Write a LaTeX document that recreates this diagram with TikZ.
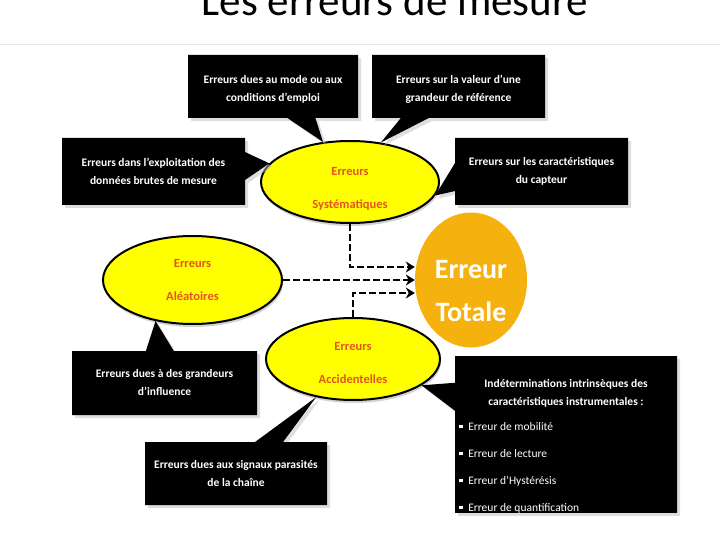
\documentclass[tikz,border=0pt]{standalone}
\usepackage{fontspec}
\setmainfont{Carlito}
\usepackage{xcolor}
\usepackage{tikz}
\usetikzlibrary{arrows.meta,shapes.geometric,shapes.callouts,shadows}
\definecolor{ErrYellow}{HTML}{FFFF00}
\definecolor{ErrRed}{HTML}{E5541B}
\definecolor{TotalOrange}{HTML}{F5B10E}
\definecolor{ShadowGray}{HTML}{BDBDBD}
\definecolor{RuleGray}{HTML}{E6E6E6}
\newcommand{\sqbullet}{\rule[2pt]{3.5pt}{3.5pt}\enspace}

\begin{document}
\begin{tikzpicture}[x=1pt, y=-1pt, >={Stealth[length=9pt,width=11pt]},
    callbox/.style={rectangle callout, fill=black, text=white, inner sep=0pt,
      align=center, callout pointer width=28pt,
      font=\bfseries\fontsize{11.5}{18}\selectfont,
      drop shadow={shadow xshift=3pt, shadow yshift=-3pt, fill=ShadowGray}},
    errbox/.style={ellipse, draw=black, line width=2pt, fill=ErrYellow,
      text=ErrRed, inner sep=0pt, align=center,
      font=\bfseries\fontsize{12.5}{33}\selectfont,
      drop shadow={shadow xshift=1pt, shadow yshift=-3pt, fill=gray!70}},
    flow/.style={->, line width=2pt, dash pattern=on 7pt off 3pt}]
    \useasboundingbox (0,0) rectangle (720,540);
    \clip (0,0) rectangle (720,540);
    \node[anchor=base, font=\fontsize{43}{43}\selectfont] (title) at (395,16) {Les erreurs de mesure};
    \draw[RuleGray, line width=1pt] (0,45) -- (720,45);

    \node[errbox, minimum width=178pt, minimum height=82pt] (sys) at (350,182) {\rule{0pt}{22pt}Erreurs\\Systématiques};
    \node[errbox, minimum width=179pt, minimum height=88pt] (alea) at (192.5,280) {Erreurs\\Aléatoires};
    \node[errbox, minimum width=174pt, minimum height=82pt] (acc) at (353,359) {\rule{0pt}{16pt}Erreurs\\Accidentelles};
    \node[ellipse, fill=TotalOrange, text=white, inner sep=0pt, align=center,
      minimum width=112pt, minimum height=135pt,
      font=\bfseries\fontsize{28}{43}\selectfont] (tot) at (471,280) {\rule{0pt}{40pt}Erreur\\Totale};

    \coordinate (in1) at ([yshift=13pt]tot.west);
    \coordinate (in3) at ([yshift=-13pt]tot.west);
    \draw[flow] (sys.south) |- (in1);
    \draw[flow] (alea.east) -- (tot.west);
    \draw[flow] (acc.north) |- (in3);

    \node[callbox, minimum width=170pt, minimum height=63pt, callout absolute pointer={(sys.124)}] (mode) at (273,86.5)
      {\rule{0pt}{14pt}Erreurs dues au mode ou aux\\conditions d’emploi};
    \node[callbox, minimum width=173pt, minimum height=63pt, callout absolute pointer={(sys.52)}] (valref) at (458.5,86.5)
      {\rule{0pt}{14pt}Erreurs sur la valeur d'une\\grandeur de référence};
    \node[callbox, minimum width=183pt, minimum height=67pt, callout absolute pointer={(sys.167)}] (exploit) at (153.5,171.5)
      {Erreurs dans l’exploitation des\\données brutes de mesure};
    \node[callbox, minimum width=173pt, minimum height=67pt, callout absolute pointer={(sys.-9)}] (capteur) at (541.5,171.5)
      {Erreurs sur les caractéristiques\\du capteur};
    \node[callbox, minimum width=185pt, minimum height=64pt, callout absolute pointer={(alea.228)}] (influ) at (164.5,383)
      {Erreurs dues à des grandeurs\\d’influence};
    \node[callbox, minimum width=182pt, minimum height=63pt, callout absolute pointer={(acc.226)}] (parasit) at (236,473.5)
      {Erreurs dues aux signaux parasités\\de la chaîne};
    \node[callbox, minimum width=222pt, minimum height=155pt, text width=214pt, align=flush left,
      font=\fontsize{11.5}{18}\selectfont, callout absolute pointer={(acc.-21)}] (instr) at (566,434.5)
      {{\centering\bfseries\rule{0pt}{31pt}Indéterminations intrinsèques des\par caractéristiques instrumentales :\par}\vspace{7pt}
       \sqbullet Erreur de mobilité\par\vspace{9pt}
       \sqbullet Erreur de lecture\par\vspace{9pt}
       \sqbullet Erreur d’Hystérésis\par\vspace{9pt}
       \sqbullet Erreur de quantification};
  \end{tikzpicture}
\end{document}
